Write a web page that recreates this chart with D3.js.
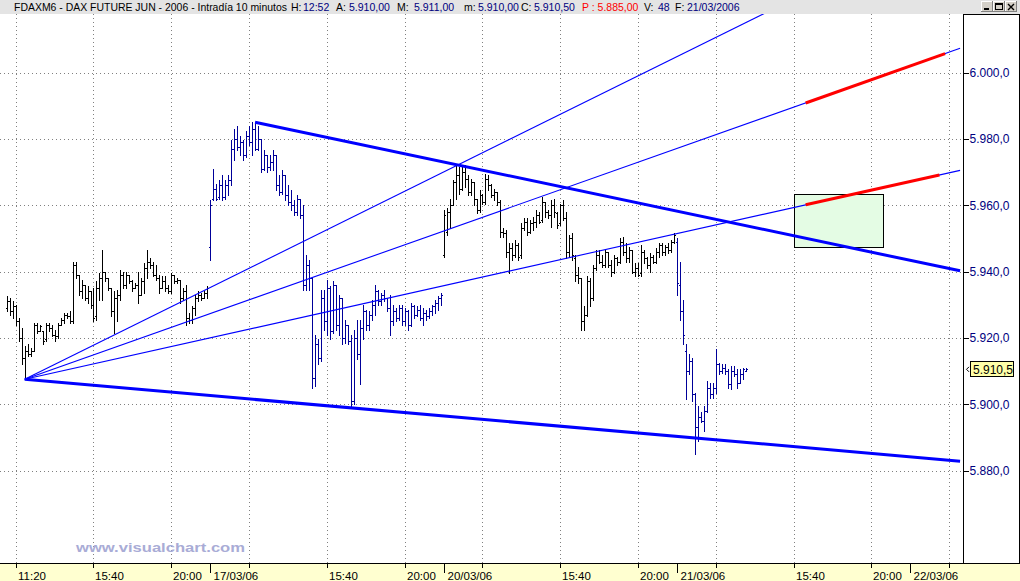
<!DOCTYPE html>
<html><head><meta charset="utf-8">
<script src="https://cdn.jsdelivr.net/npm/d3@7"></script>
<style>
html,body{margin:0;padding:0;background:#fff;overflow:hidden;}
svg{display:block;}
text{font-family:Arial,"Liberation Sans",sans-serif;}
</style></head><body>
<svg id="c" width="1020" height="581"></svg>
<script>
// ---------------- DATA ----------------
const dayDates = ["16/03/06","17/03/06","20/03/06","21/03/06","22/03/06"];
const barsPerDay = 78;                 // 10-minute bars, 09:10 .. 22:00
const timeTicks = [13, 39, 65];        // slot index within a day
const timeLabels = ["11:20","15:40","20:00"];
const priceTicks = [5880,5900,5920,5940,5960,5980,6000];
const firstBar = 10;                   // first bar = slot 10 of 16/03/06 (10:50)

const highP = [
 // 16/03
 5932.5,5932,5931,5930,5926,5923,5917.5,5918,5917,5924.5,5924.5,5924,5922,5924.5,5924.5,5924,5922.5,5924.5,5926,5927.5,
 5927.5,5928,5943,5943,5939,5937.5,5936,5935.5,5934,5935,5937,5939.5,5946.5,5940,5938,5935,5934,5934.5,5940.5,5940,
 5940,5939,5937.5,5936.5,5940,5938,5942.5,5946.5,5944,5943,5942,5939,5938.5,5938.5,5936,5939.5,5939,5938,5937.5,5935,
 5936,5927.5,5929.5,5933,5934,5933.5,5934,5935.5,
 // 17/03
 5961.5,5971,5966.5,5967.5,5969,5967.5,5969,5979.5,5983,5984,5981,5979.5,5982.5,5984,5985,5985,5984,5980,5976.5,5975,
 5975,5976.5,5975,5969,5970.5,5969,5966,5964.5,5961.5,5963,5962,5960,5945,5943.5,5938,5921,5919.5,5934.5,5934.5,5937.5,
 5935.5,5937,5936,5933,5932,5925.5,5924,5921,5922.5,5925.5,5925.5,5930,5928.5,5928,5931.5,5936,5934.5,5933.5,5934.5,5932,
 5933,5930,5929,5930,5930,5929,5928.5,5930.5,5930,5929.5,5930,5929,5928.5,5929,5930,5931.5,5932.5,5933.5,
 // 20/03
 5958.5,5959,5962,5967.5,5972.5,5971.5,5971.5,5972,5969,5968,5967,5962,5964.5,5963.5,5969.5,5969,5966.5,5965,5964,5961.5,
 5953,5952.5,5948.5,5948.5,5949.5,5948.5,5954.5,5956,5956,5955.5,5956.5,5958.5,5958,5962.5,5961,5958.5,5961.5,5962,5958,5960.5,
 5961.5,5958,5951,5951.5,5945,5941.5,5938,5929.5,5938.5,5938,5942,5946.5,5946.5,5945,5946.5,5946,5943.5,5945,5944.5,5950,
 5950.5,5948.5,5947.5,5946.5,5942.5,5942.5,5948,5946.5,5944.5,5945.5,5945,5947,5948.5,5948.5,5948,5948.5,5949.5,5951.5,
 // 21/03
 5950,5943,5931.5,5918,5915,5914,5903.5,5899.5,5897.5,5899.5,5907,5906.5,5906.5,5916.5,5912.5,5912,5912,5910.5,5911.5,5911.5,
 5910.5,5910.5,5911,5911
];
const lowP = [
 // 16/03
 5928,5927,5926,5924,5919,5912,5907.5,5914.5,5914.5,5916,5921.5,5922,5918,5919,5922,5920.5,5919,5920,5924,5924.5,
 5926,5924.5,5924.5,5938,5933,5932,5931.5,5930.5,5929,5925,5925.5,5931.5,5931.5,5937,5934.5,5926.5,5921.5,5925,5931.5,5935,
 5935,5936.5,5934,5935,5930.5,5933,5933.5,5938,5941,5938.5,5937.5,5933.5,5935,5934,5933.5,5933.5,5936.5,5936.5,5930.5,5931.5,
 5924,5924.5,5924.5,5927,5931,5931.5,5932,5932,
 // 17/03
 5943.5,5961.5,5961.5,5962,5961.5,5962,5963,5966,5973.5,5976.5,5975,5973.5,5974.5,5978,5975,5976.5,5976.5,5970,5970.5,5970,
 5970.5,5970.5,5964.5,5963,5963.5,5961.5,5960,5958.5,5957,5957,5956,5934.5,5934.5,5934.5,5905,5905.5,5912,5913,5922.5,5921,
 5919.5,5921.5,5922.5,5921,5918,5918.5,5918,5899,5900,5913.5,5906,5919.5,5922.5,5922.5,5925.5,5927,5930,5930,5931,5928,
 5921,5924,5925,5925.5,5924,5924,5922.5,5923.5,5926,5926.5,5925.5,5924,5925.5,5926,5927,5927.5,5928.5,5930,
 // 20/03
 5944.5,5951,5953,5960,5962,5963.5,5964.5,5965.5,5963,5963,5960,5957.5,5958,5960.5,5960.5,5964.5,5962.5,5961.5,5960,5950.5,
 5950.5,5944.5,5939.5,5943.5,5944.5,5943.5,5944,5952.5,5951,5951.5,5952.5,5953.5,5954.5,5955,5956.5,5956,5953.5,5956.5,5953,5954,
 5955.5,5944,5944.5,5943.5,5937,5936.5,5922.5,5922.5,5926.5,5929.5,5931.5,5940.5,5942.5,5941.5,5941.5,5941.5,5938.5,5939.5,5942,5942.5,
 5945,5943,5943,5939.5,5938.5,5938.5,5938.5,5942.5,5941,5940,5942.5,5942.5,5944.5,5945,5945,5945.5,5946,5948.5,
 // 21/03
 5933,5925.5,5918,5901.5,5909,5901,5885,5889,5894.5,5892,5897.5,5902,5902,5903.5,5909,5909.5,5909,5905,5904.5,5908.5,
 5905,5906.5,5907.5,5910
];
const openP = [
 // 16/03
 5929,5931,5928,5929.5,5925,5920,5914,5916,5915,5916,5924,5922,5922,5919.5,5924,5923,5921,5920.5,5924,5925.5,
 5927,5926.5,5925,5942,5939,5934,5936,5932,5934,5930,5926.5,5935,5938,5940,5938,5935,5928,5932,5933,5939,
 5936,5939,5937,5935,5936,5933,5937,5941,5943,5942,5939,5938,5935,5937,5935,5934,5939,5937,5937.5,5932,
 5934,5926,5925.5,5929,5932,5933,5932,5933.5,
 // 17/03
 5947.5,5962,5965,5962.5,5966,5962.5,5966,5967.5,5977,5980,5977.5,5979,5975,5981,5979,5983,5977,5980,5971,5975,
 5971.5,5973,5975,5966,5964,5969,5963,5961,5960,5958,5962,5957,5936,5942,5938,5908,5918,5914,5932,5925,
 5935,5922,5936,5924,5932,5920,5924,5919,5901,5920,5915,5923,5928,5924,5927,5930,5934,5931,5933,5932,
 5929,5925,5928,5926,5929,5925,5928,5924,5929.5,5927,5928.5,5926,5927.5,5926.5,5928,5929.5,5930.5,5932,
 // 20/03
 5945,5952,5958,5960,5967,5969,5965,5970,5968,5964,5967,5962,5958.5,5963,5961,5968,5966,5963,5964,5961,
 5952,5951.5,5946,5947,5945,5948,5945,5953,5955,5952,5954.5,5955,5957,5955.5,5961,5958,5957,5960,5957.5,5954.5,
 5960,5956,5946,5950,5944,5939,5938,5925,5927,5937,5932,5941,5945,5943,5942,5946,5942,5940,5944,5943,
 5949,5946,5944,5946.5,5940,5941,5939.5,5946,5944,5942,5944.5,5943,5946,5948,5946,5947.5,5946.5,5949,
 // 21/03
 5949,5936,5928,5916,5910,5913,5903,5893,5896,5895,5898,5905,5903,5905,5912,5910,5911,5910,5906,5910,
 5909,5906.5,5909,5910
];
const closeP = [
 // 16/03
 5931,5928,5929.5,5925,5920,5914,5916,5915,5916,5924,5922,5923.5,5919,5924,5923,5921,5920.5,5924,5925.5,5927,
 5926.5,5925,5942,5939,5934,5936,5932,5934,5930,5926,5935,5938,5940,5938,5935,5928,5932,5933,5939,5936,
 5939,5937,5935,5936,5933,5937,5941,5943,5942,5939,5938,5935,5937,5935,5934,5939,5937,5937.5,5932,5934,
 5926,5925.5,5929,5932,5933,5932,5933.5,5935,
 // 17/03
 5960,5965,5962,5966,5962.5,5966,5967.5,5977,5980,5977.5,5979,5975,5981,5979,5983,5977,5980,5971,5975,5971.5,
 5973,5975,5966,5964,5969,5963,5961,5960,5958,5962,5957,5936,5942,5938,5908,5918,5914,5932,5925,5935,
 5922,5936,5924,5932,5920,5924,5919,5901,5920,5915,5923,5928,5924,5927,5930,5934,5931,5933,5932,5929,
 5925,5928,5926,5929,5925,5928,5924,5929.5,5927,5928.5,5926,5927.5,5926.5,5928,5929.5,5930.5,5932,5933,
 // 20/03
 5957,5958,5960,5967,5969,5965,5970,5968,5964,5967,5962,5958.5,5963,5961,5968,5966,5963,5964,5961,5952,
 5951.5,5946,5947,5945,5948,5944.5,5953,5955,5952,5954.5,5955,5957,5955,5961,5958,5957,5960,5958,5954,5960,
 5956,5946,5950,5945,5939,5938,5925,5927,5937,5932,5941,5945,5943,5942,5946,5942,5940,5944,5943,5949,
 5946,5944,5946.5,5940,5941,5939,5946,5944,5942,5944.5,5943,5946,5948,5946,5947.5,5946.5,5949,5951,
 // 21/03
 5936.5,5928,5921,5910,5913,5903,5893,5896,5895,5898,5905,5903,5905,5912,5910,5911,5910,5906,5910,5909,
 5906.5,5909,5910.5,5910.5
];

// drawn objects, in (bar index, price)
const thickLines = [
  {g1:16, p1:5907.5, g2:328.6, p2:5882.8},
  {g1:93, p1:5985.0, g2:328.6, p2:5940.2}
];
const fanLines = [
  {g1:16, p1:5907.5, g2:328.6, p2:6047.0},
  {g1:16, p1:5907.5, g2:328.6, p2:6007.3},
  {g1:16, p1:5907.5, g2:328.6, p2:5970.5}
];
const projLines = [
  {g1:277, p1:5990.8, g2:323.6, p2:6005.7},
  {g1:277, p1:5960.1, g2:321.7, p2:5969.1}
];
const targetBox = {g1:273, g2:303, pLow:5947.5, pHigh:5963.5};
const lastPrice = 5910.5;

const headerParts = [
  {x:14,  t:"FDAXM6 - DAX FUTURE  JUN - 2006 - Intradía 10 minutos", c:"#000"},
  {x:291, t:"H:", c:"#000"}, {x:303, t:"12:52", c:"#000080"},
  {x:336, t:"A:", c:"#000"}, {x:349, t:"5.910,00", c:"#000080"},
  {x:397, t:"M:", c:"#000"}, {x:414, t:"5.911,00", c:"#000080"},
  {x:464, t:"m:", c:"#000"}, {x:478, t:"5.910,00", c:"#000080"},
  {x:521, t:"C:", c:"#000"}, {x:534, t:"5.910,50", c:"#000080"},
  {x:582, t:"P : 5.885,00", c:"#ff0000"},
  {x:644, t:"V:", c:"#000"}, {x:658, t:"48", c:"#000080"},
  {x:675, t:"F:", c:"#000"}, {x:687, t:"21/03/2006", c:"#000080"}
];

// ---------------- CHART ----------------
const svg = d3.select("#c");
const W = 1020, H = 581;
const P = {left:0, top:14, right:963, bottom:563};

const x = d3.scaleLinear().domain([0, 312]).range([-23.2, -23.2 + 2.9923*312]);
const y = d3.scaleLinear().domain([5880, 6000]).range([470.5, 72.5]);

const loc = d3.formatLocale({decimal:",", thousands:".", grouping:[3], currency:["",""]});
const fmt1 = loc.format(",.1f");

svg.append("rect").attr("width", W).attr("height", H).attr("fill", "#fff");

svg.append("defs").append("clipPath").attr("id","clip")
  .append("rect").attr("x",P.left).attr("y",P.top).attr("width",P.right-P.left).attr("height",P.bottom-P.top);

// grid
const grid = svg.append("g").attr("stroke","#808080").attr("stroke-dasharray","1,3").attr("shape-rendering","crispEdges");
grid.selectAll("line.h").data(priceTicks).join("line")
  .attr("x1",P.left).attr("x2",P.right)
  .attr("y1",d=>Math.round(y(d))+0.5).attr("y2",d=>Math.round(y(d))+0.5);

const timeTickGs = [];
for (let d = 0; d < dayDates.length; d++) {
  timeTicks.forEach((s,i) => {
    const g = d*barsPerDay + s;
    if (x(g) < P.right) timeTickGs.push({g, label: (i===0 && d>0) ? "" : timeLabels[i]});
  });
}
grid.selectAll("line.v").data(timeTickGs).join("line")
  .attr("y1",P.top).attr("y2",P.bottom)
  .attr("x1",d=>Math.round(x(d.g))+0.5).attr("x2",d=>Math.round(x(d.g))+0.5);

// target box
svg.append("rect")
  .attr("x", Math.round(x(targetBox.g1))+0.5).attr("y", Math.round(y(targetBox.pHigh))+0.5)
  .attr("width", Math.round(x(targetBox.g2)) - Math.round(x(targetBox.g1)))
  .attr("height", Math.round(y(targetBox.pLow)) - Math.round(y(targetBox.pHigh)))
  .attr("fill","#e4fce4").attr("stroke","#000").attr("stroke-width",1);

// bars
const bars = openP.map((o,i)=>({g:firstBar+i, o, h:highP[i], l:lowP[i], c:closeP[i]}));
const barG = svg.append("g").attr("clip-path","url(#clip)").attr("shape-rendering","crispEdges");
const bg = barG.selectAll("g").data(bars).join("g")
  .attr("fill", d => (Math.floor(d.g/barsPerDay) % 2) ? "#000099" : "#000");
bg.append("rect").attr("x",d=>Math.round(x(d.g))).attr("y",d=>Math.round(y(d.h)))
  .attr("width",1).attr("height",d=>Math.max(1, Math.round(y(d.l))-Math.round(y(d.h))+1));
bg.append("rect").attr("x",d=>Math.round(x(d.g))-1).attr("y",d=>Math.round(y(d.o)))
  .attr("width",1).attr("height",1);
bg.append("rect").attr("x",d=>Math.round(x(d.g))+1).attr("y",d=>Math.round(y(d.c)))
  .attr("width",1).attr("height",1);

// lines
const lineG = svg.append("g").attr("clip-path","url(#clip)").attr("fill","none");
const seg = d => `M${x(d.g1)},${y(d.p1)}L${x(d.g2)},${y(d.p2)}`;
lineG.selectAll("path.fan").data(fanLines).join("path").attr("d",seg)
  .attr("stroke","#0000ff").attr("stroke-width",1.1);
lineG.selectAll("path.thick").data(thickLines).join("path").attr("d",seg)
  .attr("stroke","#0000ff").attr("stroke-width",3);
lineG.selectAll("path.proj").data(projLines).join("path").attr("d",seg)
  .attr("stroke","#ff0000").attr("stroke-width",3);

// right axis panel
svg.append("path").attr("d",`M${P.right+0.5},${P.top}V${P.bottom}M${P.right},${P.top+0.5}H1019.5V${P.bottom}`)
  .attr("stroke","#000").attr("fill","none").attr("shape-rendering","crispEdges");
const yAxis = svg.append("g").attr("transform",`translate(${P.right+0.5},0)`)
  .call(d3.axisRight(y).tickValues(priceTicks).tickSize(5).tickPadding(1).tickFormat(fmt1));
yAxis.select(".domain").remove();
yAxis.selectAll("line").attr("stroke","#000").attr("shape-rendering","crispEdges");
yAxis.selectAll("text").attr("fill","#000080").attr("font-size",12)
  .attr("font-family","Arial, 'Liberation Sans', sans-serif");

// last price flag
const ly = y(lastPrice);
svg.append("path").attr("d",`M969,${ly-2.5}L966.5,${ly}L969,${ly+2.5}`)
  .attr("stroke","#000").attr("fill","none").attr("stroke-width",1);
svg.append("rect").attr("x",970.5).attr("y",Math.round(ly)-7.5).attr("width",43).attr("height",15)
  .attr("fill","#ffffa8").attr("stroke","#000");
svg.append("text").attr("x",973).attr("y",Math.round(ly)+4.5).attr("font-size",12).attr("fill","#000")
  .text(fmt1(lastPrice));

// bottom axis band
svg.append("rect").attr("x",0).attr("y",P.bottom).attr("width",W).attr("height",H-P.bottom).attr("fill","#ffffd0");
svg.append("line").attr("x1",0).attr("x2",W).attr("y1",P.bottom+0.5).attr("y2",P.bottom+0.5)
  .attr("stroke","#000").attr("shape-rendering","crispEdges");

const xAxis = svg.append("g").attr("transform",`translate(0.5,${P.bottom})`)
  .call(d3.axisBottom(x).tickValues(timeTickGs.map(d=>d.g)).tickSize(5)
    .tickFormat(g => (timeTickGs.find(t=>t.g===g)||{}).label || ""));
xAxis.select(".domain").remove();
xAxis.selectAll("line").attr("stroke","#000").attr("shape-rendering","crispEdges");
xAxis.selectAll(".tick").attr("transform", d => `translate(${Math.round(x(d))},0)`);
xAxis.selectAll("text").attr("text-anchor","start").attr("x",1.5).attr("y",8.5)
  .attr("fill","#000").attr("font-size",11.5).attr("font-family","Arial, 'Liberation Sans', sans-serif");

const sepGs = [];
for (let d = 1; d < dayDates.length; d++) sepGs.push(d*barsPerDay);
const sepAxis = svg.append("g").attr("transform",`translate(0.5,${P.bottom})`)
  .call(d3.axisBottom(x).tickValues(sepGs).tickSize(10).tickFormat(g => dayDates[g/barsPerDay]));
sepAxis.select(".domain").remove();
sepAxis.selectAll("line").attr("stroke","#000").attr("shape-rendering","crispEdges");
sepAxis.selectAll(".tick").attr("transform", d => `translate(${Math.round(x(d))},0)`);
sepAxis.selectAll("text").attr("text-anchor","start").attr("x",3).attr("y",8.5)
  .attr("fill","#000").attr("font-size",11.5).attr("font-family","Arial, 'Liberation Sans', sans-serif");

// watermark
svg.append("text").attr("x",76).attr("y",552).attr("font-size",13).attr("font-weight","bold")
  .attr("font-family","Verdana, 'DejaVu Sans', sans-serif").attr("fill","#a9acd6")
  .attr("textLength",169).attr("lengthAdjust","spacingAndGlyphs").text("www.visualchart.com");

// header
svg.append("rect").attr("x",0).attr("y",0).attr("width",W).attr("height",P.top).attr("fill","#e4e4e4");
const ht = svg.append("g").attr("font-size",10.5).style("white-space","pre");
ht.selectAll("text").data(headerParts).join("text")
  .attr("x",d=>d.x).attr("y",11).attr("fill",d=>d.c).text(d=>d.t)
  .each(function(d,i){ if(i===0) d3.select(this).attr("textLength",273).attr("lengthAdjust","spacingAndGlyphs"); });

// window buttons
const btns = [981, 993, 1005];
const bt = svg.append("g").attr("shape-rendering","crispEdges");
btns.forEach((bx,i) => {
  bt.append("rect").attr("x",bx+0.5).attr("y",1.5).attr("width",11).attr("height",10).attr("fill","#d4d0c8").attr("stroke","#808080");
  bt.append("path").attr("d",`M${bx+0.5},${11}V1.5H${bx+11}`).attr("stroke","#fff").attr("fill","none");
});
bt.append("rect").attr("x",984).attr("y",8).attr("width",5).attr("height",2).attr("fill","#000");
bt.append("rect").attr("x",995.5).attr("y",3.5).attr("width",7).attr("height",6).attr("fill","none").attr("stroke","#000");
bt.append("rect").attr("x",995).attr("y",3).attr("width",8).attr("height",2).attr("fill","#000");
bt.append("path").attr("d","M1008,4L1014,10M1014,4L1008,10").attr("stroke","#000").attr("stroke-width",1.4).attr("shape-rendering","auto");
</script>
</body></html>
